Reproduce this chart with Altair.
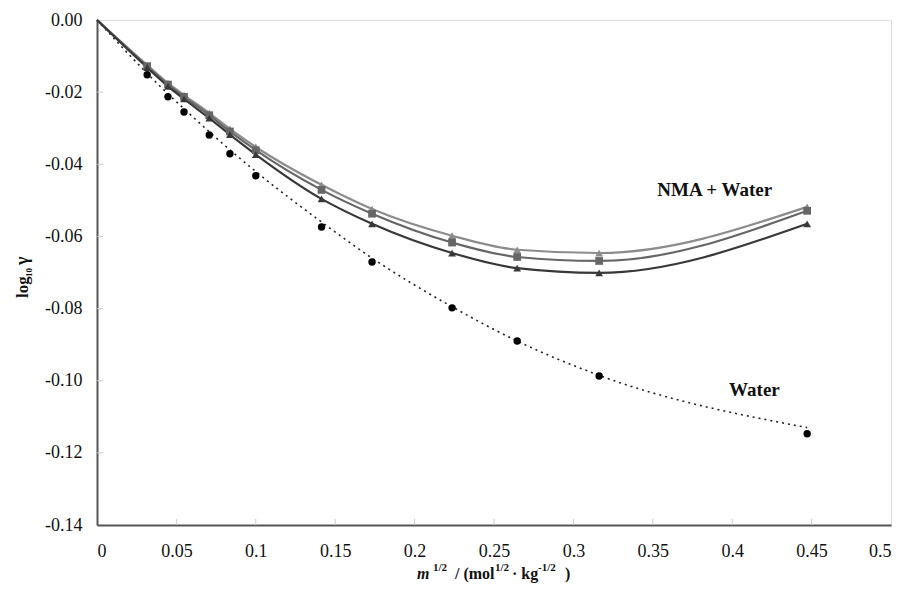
import altair as alt
import pandas as pd

# ---- data ----
x_vals = [0.0316, 0.0447, 0.0548, 0.0707, 0.0837, 0.1000, 0.1414, 0.1732, 0.2236, 0.2646, 0.3162, 0.4472]
water_pts = [-0.0152, -0.0213, -0.0255, -0.0319, -0.0371, -0.0432, -0.0574, -0.0671, -0.0798, -0.0890, -0.0987, -0.1147]
water_fit_x = [0.0, 0.0316, 0.0447, 0.0548, 0.0707, 0.0837, 0.1000, 0.1414, 0.1732, 0.2236, 0.2646, 0.3162, 0.4472]
water_fit_y = [0.0, -0.0148, -0.0205, -0.0246, -0.0310, -0.0360, -0.0420, -0.0560, -0.0660, -0.0795, -0.0890, -0.0985, -0.1130]
nma_a = [-0.0125, -0.0175, -0.0208, -0.0258, -0.0302, -0.0352, -0.0457, -0.0524, -0.0598, -0.0637, -0.0646, -0.0518]
nma_b = [-0.0128, -0.0179, -0.0213, -0.0264, -0.0309, -0.0361, -0.0471, -0.0537, -0.0617, -0.0657, -0.0668, -0.0529]
nma_c = [-0.0132, -0.0184, -0.0219, -0.0272, -0.0318, -0.0373, -0.0496, -0.0565, -0.0646, -0.0688, -0.0701, -0.0565]
series_names = ["A", "B", "C"]
series_colors = ["#8c8c8c", "#666666", "#383838"]
series_shapes = ["triangle-up", "square", "triangle-up"]
x_ticks = [0, 0.05, 0.1, 0.15, 0.2, 0.25, 0.3, 0.35, 0.4, 0.45, 0.5]
y_ticks = [0, -0.02, -0.04, -0.06, -0.08, -0.10, -0.12, -0.14]

FONT = "Liberation Serif"

rows = []
for name, ys in zip(series_names, [nma_a, nma_b, nma_c]):
    rows.append({"series": name, "x": 0.0, "y": 0.0, "pt": False})
    for xv, yv in zip(x_vals, ys):
        rows.append({"series": name, "x": xv, "y": yv, "pt": True})
nma_df = pd.DataFrame(rows)
water_df = pd.DataFrame({"x": x_vals, "y": water_pts})
fit_df = pd.DataFrame({"x": water_fit_x, "y": water_fit_y})

xs = alt.Scale(domain=[0, 0.5], nice=False, zero=False)
ys = alt.Scale(domain=[-0.14, 0], nice=False, zero=False)

x_axis = alt.Axis(values=x_ticks, title=None, grid=False, tickSize=0, labelPadding=17,
                  labelFont=FONT, labelFontSize=18, labelColor="#111",
                  labelExpr="toString(round(datum.value*100)/100)",
                  domainColor="#555", domainWidth=2)
y_axis = alt.Axis(values=y_ticks, title=None, grid=False, tickSize=0, labelPadding=15,
                  labelFont=FONT, labelFontSize=18, labelColor="#111",
                  labelExpr="datum.value == 0 ? '0.00' : '-' + format(abs(datum.value), '.2f')",
                  domainColor="#555", domainWidth=2)

color_scale = alt.Scale(domain=series_names, range=series_colors)
shape_scale = alt.Scale(domain=series_names, range=series_shapes)

base_x = alt.X("x:Q", scale=xs, axis=x_axis)
base_y = alt.Y("y:Q", scale=ys, axis=y_axis)

# faint inward tick marks
xtick_df = pd.DataFrame({"x": x_ticks[1:-1]})
ytick_df = pd.DataFrame({"y": y_ticks[1:-1]})
xticks = alt.Chart(xtick_df).mark_rule(color="#cccccc", strokeWidth=1).encode(
    x=alt.X("x:Q", scale=xs, axis=x_axis), y=alt.value(505), y2=alt.value(499))
yticks = alt.Chart(ytick_df).mark_rule(color="#cccccc", strokeWidth=1).encode(
    y=alt.Y("y:Q", scale=ys, axis=y_axis), x=alt.value(0), x2=alt.value(6))

fit_line = alt.Chart(fit_df).mark_line(color="#222", strokeWidth=1.6, strokeDash=[2, 4],
                                       interpolate="monotone").encode(x=base_x, y=base_y)
water_points = alt.Chart(water_df).mark_point(filled=True, shape="circle", color="black",
                                              size=55, opacity=1).encode(x=base_x, y=base_y)

nma_lines = alt.Chart(nma_df).mark_line(strokeWidth=2.2, interpolate="monotone").encode(
    x=base_x, y=base_y,
    color=alt.Color("series:N", scale=color_scale, legend=None),
    detail="series:N",
    order=alt.Order("x:Q"))
nma_points = alt.Chart(nma_df).transform_filter("datum.pt").mark_point(
    filled=True, size=60, opacity=1).encode(
    x=base_x, y=base_y,
    color=alt.Color("series:N", scale=color_scale, legend=None),
    shape=alt.Shape("series:N", scale=shape_scale, legend=None))

lab_df = pd.DataFrame({"x": [0.389, 0.414], "y": [-0.0471, -0.1026], "t": ["NMA + Water", "Water"]})
labels = alt.Chart(lab_df).mark_text(font=FONT, fontSize=19, fontWeight="bold", color="#111").encode(
    x=base_x, y=base_y, text="t:N")

def txt(s, x, y, size, style="normal", weight="bold", angle=0, align="left"):
    return alt.Chart(pd.DataFrame({"t": [s]})).mark_text(
        font=FONT, fontSize=size, fontWeight=weight, fontStyle=style, color="#111",
        align=align, baseline="alphabetic", angle=angle).encode(
        x=alt.value(x), y=alt.value(y), text="t:N")

# x-axis title pieces (plot coordinates)
xt_y = 559
sup_y = 551
xtitle = [
    txt("m", 320, xt_y, 16, style="italic"),
    txt("1/2", 336, sup_y, 11),
    txt("/ (mol", 358, xt_y, 16),
    txt("1/2", 398, sup_y, 11),
    txt("· kg", 415, xt_y, 16),
    txt("-1/2", 441, sup_y, 11),
    txt(")", 468, xt_y, 16),
]
# y-axis title pieces (rotated)
ytitle = [
    txt("log", -69, 278, 17, angle=270),
    txt("10", -65, 257, 9, angle=270),
    txt("γ", -69, 245, 18, angle=270),
]

chart = alt.layer(xticks, yticks, fit_line, water_points, nma_lines, nma_points, labels,
                  *xtitle, *ytitle).properties(
    width=794, height=505,
    autosize=alt.AutoSizeParams(type="none"),
    padding={"left": 89, "top": 12, "right": 10, "bottom": 58},
).configure_view(stroke="#555", strokeWidth=2).configure(background="white")

chart.save("out.html", embed_options={"renderer": "svg", "actions": False})
